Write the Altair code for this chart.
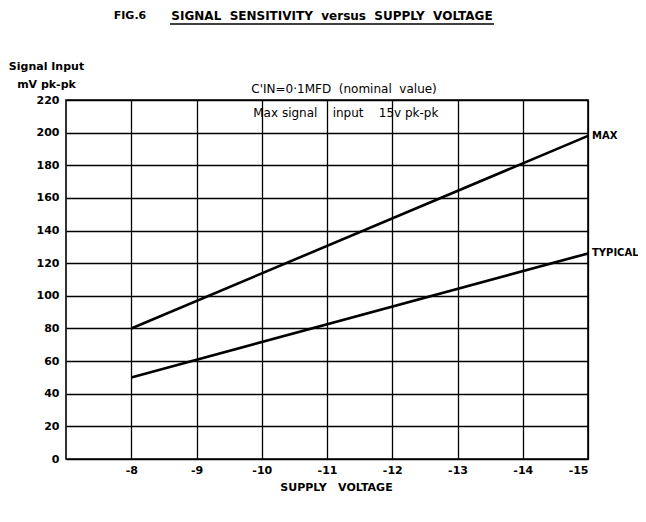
import altair as alt
import pandas as pd

# ---- data ----
supply_voltage = [-8, -15]
max_signal = [80, 198]
typical_signal = [50, 126]
curve_names = ["MAX", "TYPICAL"]
x_ticks = [-8, -9, -10, -11, -12, -13, -14, -15]
y_ticks = [0, 20, 40, 60, 80, 100, 120, 140, 160, 180, 200, 220]

NB = "\u00a0"
fig_label = "FIG.6"
main_title = f"SIGNAL{NB*2}SENSITIVITY{NB*2}versus{NB*2}SUPPLY{NB*2}VOLTAGE"
note_1 = f"C'IN=0·1MFD{NB*2}(nominal{NB*2}value)"
note_2 = f"Max{NB}signal{NB*4}input{NB*4}15v{NB}pk-pk"
x_title = f"SUPPLY{NB*3}VOLTAGE"

FONT = "DejaVu Sans"

lines_df = pd.DataFrame({
    "v": supply_voltage + supply_voltage,
    "s": max_signal + typical_signal,
    "curve": [curve_names[0]] * 2 + [curve_names[1]] * 2,
})
end_df = pd.DataFrame({
    "v": [supply_voltage[-1], supply_voltage[-1]],
    "s": [max_signal[-1], typical_signal[-1]],
    "curve": curve_names,
})
notes_df = pd.DataFrame({
    "v": [-9.84, -9.87],
    "s": [227, 212],
    "t": [note_1, note_2],
})

x_scale = alt.Scale(domain=[-15, -7], reverse=True, nice=False, zero=False)
y_scale = alt.Scale(domain=[0, 220], nice=False, zero=True)

x_axis = alt.Axis(
    values=x_ticks, labelExpr="'-' + abs(datum.value)", grid=True, gridColor="black",
    gridWidth=1.3, gridOpacity=1, ticks=False, tickSize=0, domain=False,
    labelPadding=5, labelOverlap=False,
    labelFont=FONT, labelFontSize=11, labelFontWeight="bold", labelColor="black",
    title=x_title, titleFont=FONT, titleFontSize=11,
    titleFontWeight="bold", titleColor="black", titleX=270, titleY=28,
    titleBaseline="middle", titleAlign="center",
)
y_axis = alt.Axis(
    values=y_ticks, grid=True, gridColor="black", gridWidth=1.3, gridOpacity=1,
    ticks=False, tickSize=0, domain=False, labelPadding=7, labelOverlap=False,
    labelFont=FONT, labelFontSize=11, labelFontWeight="bold", labelColor="black",
    title=["Signal Input", "mV pk-pk"], titleFont=FONT, titleFontSize=11,
    titleFontWeight="bold", titleColor="black", titleAngle=0, titleAlign="center",
    titleBaseline="top", titleX=-20, titleY=-40, titleLineHeight=18,
)


def xe():
    return alt.X("v:Q", scale=x_scale, axis=x_axis)


def ye():
    return alt.Y("s:Q", scale=y_scale, axis=y_axis)


curves = alt.Chart(lines_df).mark_line(color="black", strokeWidth=2.6, clip=False).encode(
    x=xe(), y=ye(), detail="curve:N"
)

end_labels = alt.Chart(end_df).mark_text(
    align="left", baseline="middle", dx=4, font=FONT, fontSize=10,
    fontWeight="bold", color="black",
).encode(x=xe(), y=ye(), text="curve:N")

notes = alt.Chart(notes_df).mark_text(
    align="left", baseline="middle", font=FONT, fontSize=12, color="black",
    clip=False,
).encode(x=xe(), y=ye(), text="t:N")

fig_text = alt.Chart(pd.DataFrame({"t": [fig_label]})).mark_text(
    align="center", baseline="middle", font=FONT, fontSize=11, fontWeight="bold",
    color="black",
).encode(x=alt.value(64), y=alt.value(-84), text="t:N")

title_text = alt.Chart(pd.DataFrame({"t": [main_title]})).mark_text(
    align="center", baseline="middle", font=FONT, fontSize=12, fontWeight="bold",
    color="black",
).encode(x=alt.value(266), y=alt.value(-84), text="t:N")

underline = alt.Chart(pd.DataFrame({"t": [main_title]})).mark_rule(
    color="black", strokeWidth=1.6
).encode(x=alt.value(104), x2=alt.value(428), y=alt.value(-76))

chart = alt.layer(
    curves, end_labels, notes, fig_text, title_text, underline
).properties(
    width=522, height=359,
    padding={"left": 58, "top": 92, "right": 50, "bottom": 55},
    autosize=alt.AutoSizeParams(type="none"),
    background="white",
).configure_view(
    stroke="black", strokeWidth=1.6
)

chart.save("out.html", embed_options={"renderer": "svg", "actions": False})
